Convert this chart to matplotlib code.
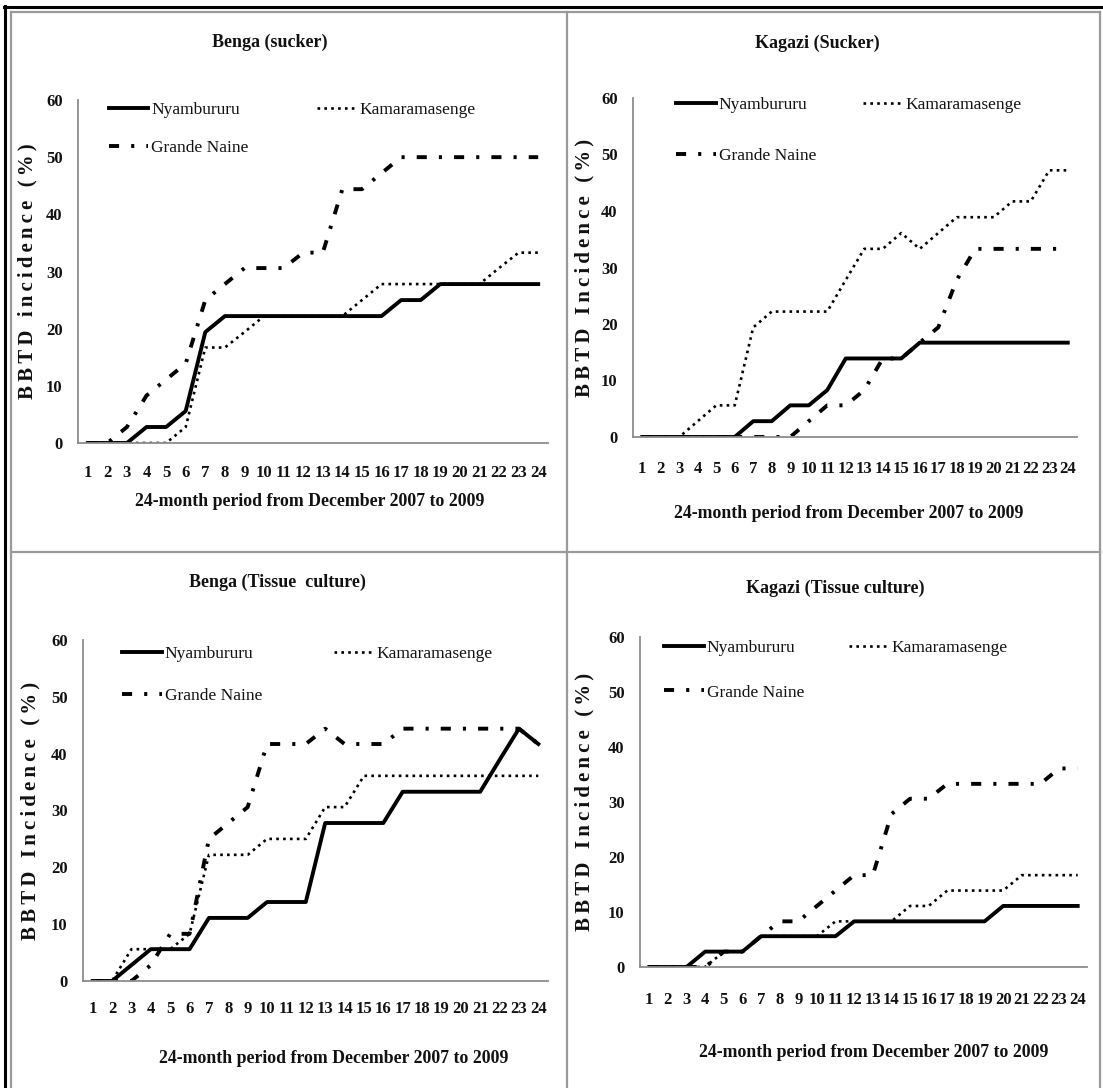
import matplotlib.pyplot as plt
from matplotlib.lines import Line2D
from matplotlib.legend import Legend

W, H = 1103, 1088

months = list(range(1, 25))
cultivars = ["Nyambururu", "Kamaramasenge", "Grande Naine"]

# BBTD incidence (%) per month
benga_sucker_nyam = [0, 0, 0, 2.8, 2.8, 5.6, 19.4, 22.2, 22.2, 22.2, 22.2, 22.2,
                     22.2, 22.2, 22.2, 22.2, 25, 25, 27.8, 27.8, 27.8, 27.8, 27.8, 27.8]
benga_sucker_kamar = [0, 0, 0, 0, 0, 2.8, 16.7, 16.7, 19.4, 22.2, 22.2, 22.2,
                      22.2, 22.2, 25, 27.8, 27.8, 27.8, 27.8, 27.8, 27.8, 30.6, 33.3, 33.3]
benga_sucker_grande = [0, 0, 2.8, 8.3, 11.1, 13.9, 25, 27.8, 30.6, 30.6, 30.6, 33.3,
                       33.3, 44.4, 44.4, 47.2, 50, 50, 50, 50, 50, 50, 50, 50]

kagazi_sucker_nyam = [0, 0, 0, 0, 0, 0, 2.8, 2.8, 5.6, 5.6, 8.3, 13.9,
                      13.9, 13.9, 13.9, 16.7, 16.7, 16.7, 16.7, 16.7, 16.7, 16.7, 16.7, 16.7]
kagazi_sucker_kamar = [0, 0, 0, 2.8, 5.6, 5.6, 19.4, 22.2, 22.2, 22.2, 22.2, 27.8,
                       33.3, 33.3, 36.1, 33.3, 36.1, 38.9, 38.9, 38.9, 41.7, 41.7, 47.2, 47.2]
kagazi_sucker_grande = [0, 0, 0, 0, 0, 0, 0, 0, 0, 2.8, 5.6, 5.6,
                        8.3, 13.9, 13.9, 16.7, 19.4, 27.8, 33.3, 33.3, 33.3, 33.3, 33.3, 33.3]

benga_tc_nyam = [0, 0, 2.8, 5.6, 5.6, 5.6, 11.1, 11.1, 11.1, 13.9, 13.9, 13.9,
                 27.8, 27.8, 27.8, 27.8, 33.3, 33.3, 33.3, 33.3, 33.3, 38.9, 44.4, 41.7]
benga_tc_kamar = [0, 0, 5.6, 5.6, 5.6, 8.3, 22.2, 22.2, 22.2, 25, 25, 25,
                  30.6, 30.6, 36.1, 36.1, 36.1, 36.1, 36.1, 36.1, 36.1, 36.1, 36.1, 36.1]
benga_tc_grande = [0, 0, 0, 2.8, 8.3, 8.3, 25, 27.8, 30.6, 41.7, 41.7, 41.7,
                   44.4, 41.7, 41.7, 41.7, 44.4, 44.4, 44.4, 44.4, 44.4, 44.4, 44.4, 41.7]

kagazi_tc_nyam = [0, 0, 0, 2.8, 2.8, 2.8, 5.6, 5.6, 5.6, 5.6, 5.6, 8.3,
                  8.3, 8.3, 8.3, 8.3, 8.3, 8.3, 8.3, 11.1, 11.1, 11.1, 11.1, 11.1]
kagazi_tc_kamar = [0, 0, 0, 0, 2.8, 2.8, 5.6, 5.6, 5.6, 5.6, 8.3, 8.3,
                   8.3, 8.3, 11.1, 11.1, 13.9, 13.9, 13.9, 13.9, 16.7, 16.7, 16.7, 16.7]
kagazi_tc_grande = [0, 0, 0, 0, 2.8, 2.8, 5.6, 8.3, 8.3, 11.1, 13.9, 16.7,
                    16.7, 27.8, 30.6, 30.6, 33.3, 33.3, 33.3, 33.3, 33.3, 33.3, 36.1, 36.1]

xlabel_text = "24-month period from December 2007 to 2009"

plt.rcParams['font.family'] = ['Liberation Serif', 'DejaVu Serif']
TXT = '#111111'

styles = [
    dict(color='black', lw=2.8, linestyle='-'),
    dict(color='black', lw=1.9, linestyle=(0, (1, 1.6))),
    dict(color='black', lw=2.8, linestyle=(0, (2.6, 3.1, 0.8, 3.1))),
]

panels = [
    dict(box=(78, 100, 548, 443), title="Benga (sucker)", ylab="BBTD incidence (%)",
         data=(benga_sucker_nyam, benga_sucker_kamar, benga_sucker_grande),
         title_xy=(0.408, 1.167), xlab_xy=(0.494, -0.172), ylab_x=-0.107, tickpx=30,
         leg=(0.065, 0.97, 0.859, 0.509)),
    dict(box=(633, 98, 1077, 437), title="Kagazi (Sucker)", ylab="BBTD Incidence (%)",
         data=(kagazi_sucker_nyam, kagazi_sucker_kamar, kagazi_sucker_grande),
         title_xy=(0.415, 1.162), xlab_xy=(0.486, -0.227), ylab_x=-0.11, tickpx=32.5,
         leg=(0.097, 0.98, 0.828, 0.518)),
    dict(box=(83, 640, 548, 981), title="Benga (Tissue  culture)", ylab="BBTD Incidence (%)",
         data=(benga_tc_nyam, benga_tc_kamar, benga_tc_grande),
         title_xy=(0.418, 1.169), xlab_xy=(0.539, -0.226), ylab_x=-0.114, tickpx=28,
         leg=(0.084, 0.959, 0.836, 0.539)),
    dict(box=(640, 637, 1087, 967), title="Kagazi (Tissue culture)", ylab="BBTD Incidence (%)",
         data=(kagazi_tc_nyam, kagazi_tc_kamar, kagazi_tc_grande),
         title_xy=(0.436, 1.147), xlab_xy=(0.522, -0.258), ylab_x=-0.124, tickpx=33,
         leg=(0.054, 0.968, 0.832, 0.467)),
]

fig = plt.figure(figsize=(W / 100, H / 100), dpi=100)


def px_axes(left, top, right, bottom):
    return fig.add_axes([left / W, 1 - bottom / H, (right - left) / W, (bottom - top) / H])


def fig_line(x0, y0, x1, y1, **kw):
    fig.add_artist(Line2D([x0 / W, x1 / W], [1 - y0 / H, 1 - y1 / H], **kw))


for p in panels:
    ax = px_axes(*p['box'])
    for vals, st in zip(p['data'], styles):
        ax.plot(months, vals, **st)
    ax.set_xlim(0.5, 24.5)
    ax.set_ylim(0, 60)
    ax.set_xticks(months)
    ax.set_xticklabels([str(m) for m in months])
    ax.set_yticks(range(0, 61, 10))
    for s in ['top', 'right']:
        ax.spines[s].set_visible(False)
    for s in ['left', 'bottom']:
        ax.spines[s].set_color('#8c8c8c')
        ax.spines[s].set_linewidth(1.3)
    ax.tick_params(axis='x', length=0, pad=(p['tickpx'] - 8.3) / 1.389, labelsize=12, labelcolor=TXT)
    ax.tick_params(axis='y', length=0, pad=11, labelsize=12, labelcolor=TXT)
    for lab in ax.get_xticklabels() + ax.get_yticklabels():
        lab.set_fontweight('bold')

    ax.text(*p['title_xy'], p['title'], transform=ax.transAxes, ha='center', va='center',
            fontsize=13, fontweight='bold', color=TXT)
    ax.text(*p['xlab_xy'], xlabel_text, transform=ax.transAxes, ha='center', va='center',
            fontsize=12.8, fontweight='bold', color=TXT)
    ax.text(p['ylab_x'], 0.5, '\u2009'.join(p['ylab']), transform=ax.transAxes,
            rotation=90, ha='center', va='center', fontsize=15, fontweight='bold', color=TXT)

    lx, r1, r2, kx = p['leg']
    for (x, y), name, st in zip([(lx, r1), (kx, r1), (lx, r2)], cultivars, styles):
        h = Line2D([], [], **st)
        leg = Legend(ax, [h], [name], loc='center left', bbox_to_anchor=(x, y),
                     bbox_transform=ax.transAxes, frameon=False, borderpad=0,
                     borderaxespad=0, handlelength=2.3, handletextpad=0.15,
                     fontsize=12.5, labelcolor=TXT)
        ax.add_artist(leg)

# table borders around the four panels
grey = dict(color='#9a9a9a', lw=1.6)
fig_line(11, 12, 11, H, **grey)
fig_line(11, 12, 1100, 12, **grey)
fig_line(1100, 12, 1100, H, **grey)
fig_line(567, 12, 567, H, **grey)
fig_line(11, 552, 1100, 552, **grey)
fig_line(4, 7, W, 7, color='black', lw=2.2)
fig_line(5, 6, 5, H, color='black', lw=2.2)

fig.savefig('out.png', dpi=100)
